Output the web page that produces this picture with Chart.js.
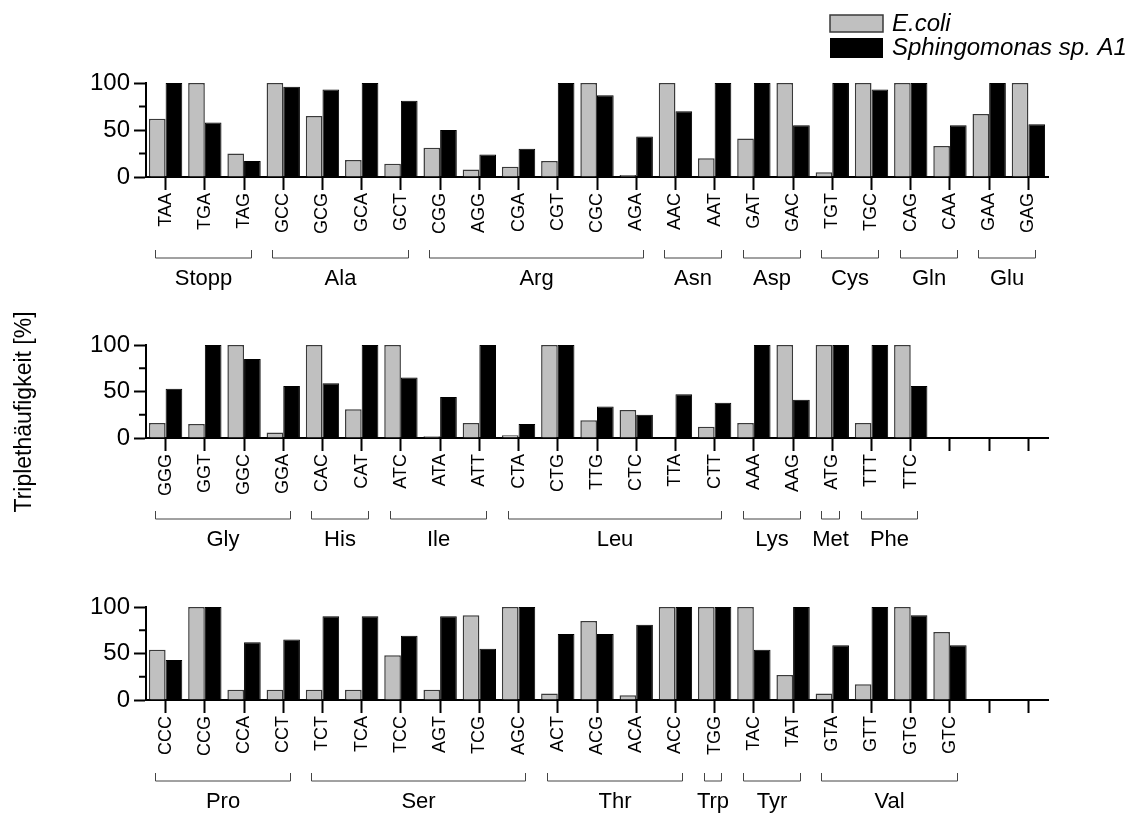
<!DOCTYPE html>
<html lang="de">
<head>
<meta charset="UTF-8">
<title>Triplethäufigkeit</title>
<script src="https://cdn.jsdelivr.net/npm/chart.js"></script>
<style>
  body { margin: 0; background: #fff; }
  #wrap { position: relative; width: 1137px; height: 823px; }
  canvas { position: absolute; left: 0; }
</style>
</head>
<body>
<div id="wrap">
  <canvas id="panel1" width="1137" height="300" style="top:0px"></canvas>
  <canvas id="panel2" width="1137" height="260" style="top:300px"></canvas>
  <canvas id="panel3" width="1137" height="263" style="top:560px"></canvas>
</div>
<script>
// values (% relative frequency of each triplet)
const codons1 = ['TAA','TGA','TAG','GCC','GCG','GCA','GCT','CGG','AGG','CGA','CGT','CGC','AGA','AAC','AAT','GAT','GAC','TGT','TGC','CAG','CAA','GAA','GAG'];
const ecoli1 = [62,100,25,100,65,18,14,31,8,11,17,100,2,100,20,41,100,5,100,100,33,67,100];
const sphingo1 = [100,58,17,96,93,100,81,50,24,30,100,87,43,70,100,100,55,100,93,100,55,100,56];
const groupNames1 = ['Stopp','Ala','Arg','Asn','Asp','Cys','Gln','Glu'];
const groupSizes1 = [3,4,6,2,2,2,2,2];

const codons2 = ['GGG','GGT','GGC','GGA','CAC','CAT','ATC','ATA','ATT','CTA','CTG','TTG','CTC','TTA','CTT','AAA','AAG','ATG','TTT','TTC','','',''];
const ecoli2 = [16,15,100,6,100,31,100,2,16,3,100,19,30,0,12,16,100,100,16,100];
const sphingo2 = [53,100,85,56,59,100,65,44,100,15,100,34,25,47,38,100,41,100,100,56];
const groupNames2 = ['Gly','His','Ile','Leu','Lys','Met','Phe'];
const groupSizes2 = [4,2,3,6,2,1,2];

const codons3 = ['CCC','CCG','CCA','CCT','TCT','TCA','TCC','AGT','TCG','AGC','ACT','ACG','ACA','ACC','TGG','TAC','TAT','GTA','GTT','GTG','GTC','',''];
const ecoli3 = [54,100,11,11,11,11,48,11,91,100,7,85,5,100,100,100,27,7,17,100,73];
const sphingo3 = [43,100,62,65,90,90,69,90,55,100,71,71,81,100,100,54,100,59,100,91,59];
const groupNames3 = ['Pro','Ser','Thr','Trp','Tyr','Val'];
const groupSizes3 = [4,6,4,1,2,4];

const seriesNames = ['E.coli', 'Sphingomonas sp. A1'];
const yTicks = [0, 50, 100];
const yMinorTicks = [25, 75];

Chart.defaults.font.family = '"Liberation Sans", Arial, sans-serif';
Chart.defaults.color = '#000';

const minorTicks = {
    id: 'minorTicks',
    afterDraw(chart) {
        let y = chart.scales.y, ctx = chart.ctx;
        ctx.save();
        ctx.strokeStyle = '#000';
        ctx.lineWidth = 2;
        yMinorTicks.forEach(v => {
            let py = y.getPixelForValue(v);
            ctx.beginPath();
            ctx.moveTo(y.right - 7, py);
            ctx.lineTo(y.right, py);
            ctx.stroke();
        });
        ctx.restore();
    }
};

function groupBrackets(names, sizes) {
    return {
        id: 'groupBrackets',
        afterDraw(chart) {
            let x = chart.scales.x, ctx = chart.ctx;
            let w = x.getPixelForValue(1) - x.getPixelForValue(0);
            let base = chart.chartArea.bottom;
            let lineY = base + 81, labelY = base + 102;
            ctx.save();
            ctx.strokeStyle = '#444';
            ctx.lineWidth = 1;
            ctx.fillStyle = '#000';
            ctx.font = '22px "Liberation Sans", Arial, sans-serif';
            ctx.textAlign = 'center';
            ctx.textBaseline = 'middle';
            let start = 0;
            names.forEach((name, i) => {
                let end = start + sizes[i] - 1;
                let x1 = Math.round(x.getPixelForValue(start) - 0.28 * w) + 0.5;
                let x2 = Math.round(x.getPixelForValue(end) + 0.17 * w) + 0.5;
                ctx.beginPath();
                ctx.moveTo(x1, lineY - 8);
                ctx.lineTo(x1, lineY);
                ctx.lineTo(x2, lineY);
                ctx.lineTo(x2, lineY - 8);
                ctx.stroke();
                ctx.fillText(name, (x1 + x2) / 2, labelY);
                start = end + 1;
            });
            ctx.restore();
        }
    };
}

const legendBox = {
    id: 'legendBox',
    afterDraw(chart) {
        let ctx = chart.ctx;
        ctx.save();
        ctx.font = 'italic 24px "Liberation Sans", Arial, sans-serif';
        ctx.textBaseline = 'middle';
        ctx.fillStyle = '#c0c0c0';
        ctx.strokeStyle = '#3a3a3a';
        ctx.lineWidth = 1.5;
        ctx.fillRect(830, 15, 53, 17);
        ctx.strokeRect(830, 15, 53, 17);
        ctx.fillStyle = '#000';
        ctx.fillRect(830, 38, 53, 20);
        ctx.fillText(seriesNames[0], 892, 24);
        ctx.fillText(seriesNames[1], 892, 48);
        ctx.restore();
    }
};

const yTitle = {
    id: 'yTitle',
    afterDraw(chart) {
        let ctx = chart.ctx;
        ctx.save();
        ctx.translate(25, 112);
        ctx.rotate(-Math.PI / 2);
        ctx.font = '23px "Liberation Sans", Arial, sans-serif';
        ctx.fillStyle = '#000';
        ctx.textAlign = 'center';
        ctx.textBaseline = 'middle';
        ctx.fillText('Triplethäufigkeit [%]', 0, 0);
        ctx.restore();
    }
};

function makePanel(id, codons, ecoli, sphingo, names, sizes, padTop, axisHeight, extra) {
    return new Chart(document.getElementById(id), {
        type: 'bar',
        data: {
            labels: codons,
            datasets: [
                { label: seriesNames[0], data: ecoli, backgroundColor: '#c0c0c0', borderColor: '#3a3a3a', borderWidth: 1.5,
                  categoryPercentage: 0.85, barPercentage: 1 },
                { label: seriesNames[1], data: sphingo, backgroundColor: '#000', borderColor: '#000', borderWidth: 1,
                  categoryPercentage: 0.85, barPercentage: 1 }
            ]
        },
        options: {
            responsive: false,
            animation: false,
            layout: { padding: { top: padTop, right: 89, left: 0, bottom: 0 } },
            plugins: { legend: { display: false }, tooltip: { enabled: false } },
            scales: {
                x: {
                    grid: { offset: false, drawOnChartArea: false, tickLength: 13, tickWidth: 2, tickColor: '#000' },
                    border: { color: '#000', width: 2 },
                    ticks: { maxRotation: 90, minRotation: 90, autoSkip: false, padding: 3, font: { size: 18 } },
                    afterFit: s => { s.height = axisHeight; }
                },
                y: {
                    min: 0, max: 100,
                    afterBuildTicks: s => { s.ticks = yTicks.map(v => ({ value: v })); },
                    ticks: { padding: 4, font: { size: 24 } },
                    grid: { drawOnChartArea: false, tickLength: 12, tickWidth: 2, tickColor: '#000' },
                    border: { color: '#000', width: 2 },
                    afterFit: s => { s.width = 146; }
                }
            }
        },
        plugins: [minorTicks, groupBrackets(names, sizes)].concat(extra)
    });
}

makePanel('panel1', codons1, ecoli1, sphingo1, groupNames1, groupSizes1, 83, 123, [legendBox]);
makePanel('panel2', codons2, ecoli2, sphingo2, groupNames2, groupSizes2, 45, 122, [yTitle]);
makePanel('panel3', codons3, ecoli3, sphingo3, groupNames3, groupSizes3, 47, 123, []);
</script>
</body>
</html>
